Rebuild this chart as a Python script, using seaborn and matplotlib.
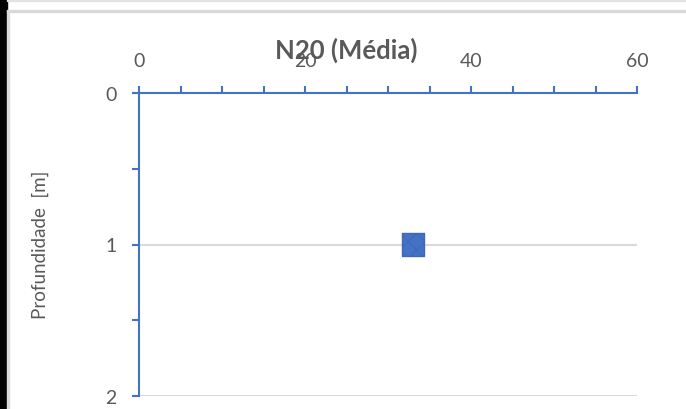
import numpy as np
import pandas as pd
import matplotlib
matplotlib.use("Agg")
import matplotlib.pyplot as plt
import seaborn as sns
from matplotlib.ticker import MultipleLocator
from matplotlib.patches import Rectangle

# data
n20 = [33]
depth = [1]
x_ticks = [0, 20, 40, 60]
y_ticks = [0, 1, 2]

df = pd.DataFrame({"N20": n20, "Profundidade": depth})

sns.set_theme(style="white")
plt.rcParams["font.family"] = ["Lato", "DejaVu Sans"]
plt.rcParams["hatch.linewidth"] = 0.6

blue = "#4472C4"
grey_txt = "#595959"

fig = plt.figure(figsize=(6.86, 4.10), dpi=100)
ax = fig.add_axes([139 / 686, 1 - 397 / 410, 498 / 686, 303 / 410])

# chart frame like the screenshot
fig.patches.append(Rectangle((0, 0), 7 / 686, 1, transform=fig.transFigure, color="black", zorder=0))
fig.patches.append(Rectangle((7 / 686, 1 - 13 / 410), 1, 2 / 410, transform=fig.transFigure, color="#D9D9D9", zorder=0))
fig.patches.append(Rectangle((7 / 686, 0), 2 / 686, 1 - 11 / 410, transform=fig.transFigure, color="#D9D9D9", zorder=0))
fig.patches.append(Rectangle((7 / 686, 1 - 1.5 / 410), 1, 1.5 / 410, transform=fig.transFigure, color="#E3E3E3", zorder=0))

sns.scatterplot(data=df, x="N20", y="Profundidade", ax=ax, marker="s", s=260,
                color=blue, edgecolor="#3D68B5", linewidth=1.0, hatch="xx", zorder=5)

ax.set_xlim(0, 60)
ax.set_ylim(2, 0)
ax.xaxis.tick_top()
ax.set_xticks(x_ticks)
ax.set_yticks(y_ticks)
ax.xaxis.set_minor_locator(MultipleLocator(5))
ax.yaxis.set_minor_locator(MultipleLocator(0.5))
ax.tick_params(axis="both", which="both", direction="out", length=5, width=1.5, color=blue)
ax.tick_params(axis="x", which="both", top=True, bottom=False)
ax.tick_params(axis="x", which="major", pad=12, labelsize=14, labelcolor=grey_txt)
ax.tick_params(axis="y", which="both", left=True)
ax.tick_params(axis="y", which="major", pad=11, labelsize=14, labelcolor=grey_txt)

for gy in [1, 2]:
    ax.axhline(gy, color="#D9D9D9", lw=1.5, zorder=1)

for side in ["bottom", "right"]:
    ax.spines[side].set_visible(False)
for side in ["top", "left"]:
    ax.spines[side].set_color(blue)
    ax.spines[side].set_linewidth(1.5)
    ax.spines[side].set_zorder(3)

ax.set_xlabel("")
ax.set_ylabel("")
fig.text(40 / 686, 1 - 245 / 410, "Profundidade  [m]", rotation=90, ha="center", va="center",
         fontsize=13.5, color=grey_txt)
fig.text(346 / 686, 1 - 50 / 410, "N20 (Média)", ha="center", va="center",
         fontsize=18.5, fontweight="bold", color=grey_txt)

fig.savefig("out.png", dpi=100)
